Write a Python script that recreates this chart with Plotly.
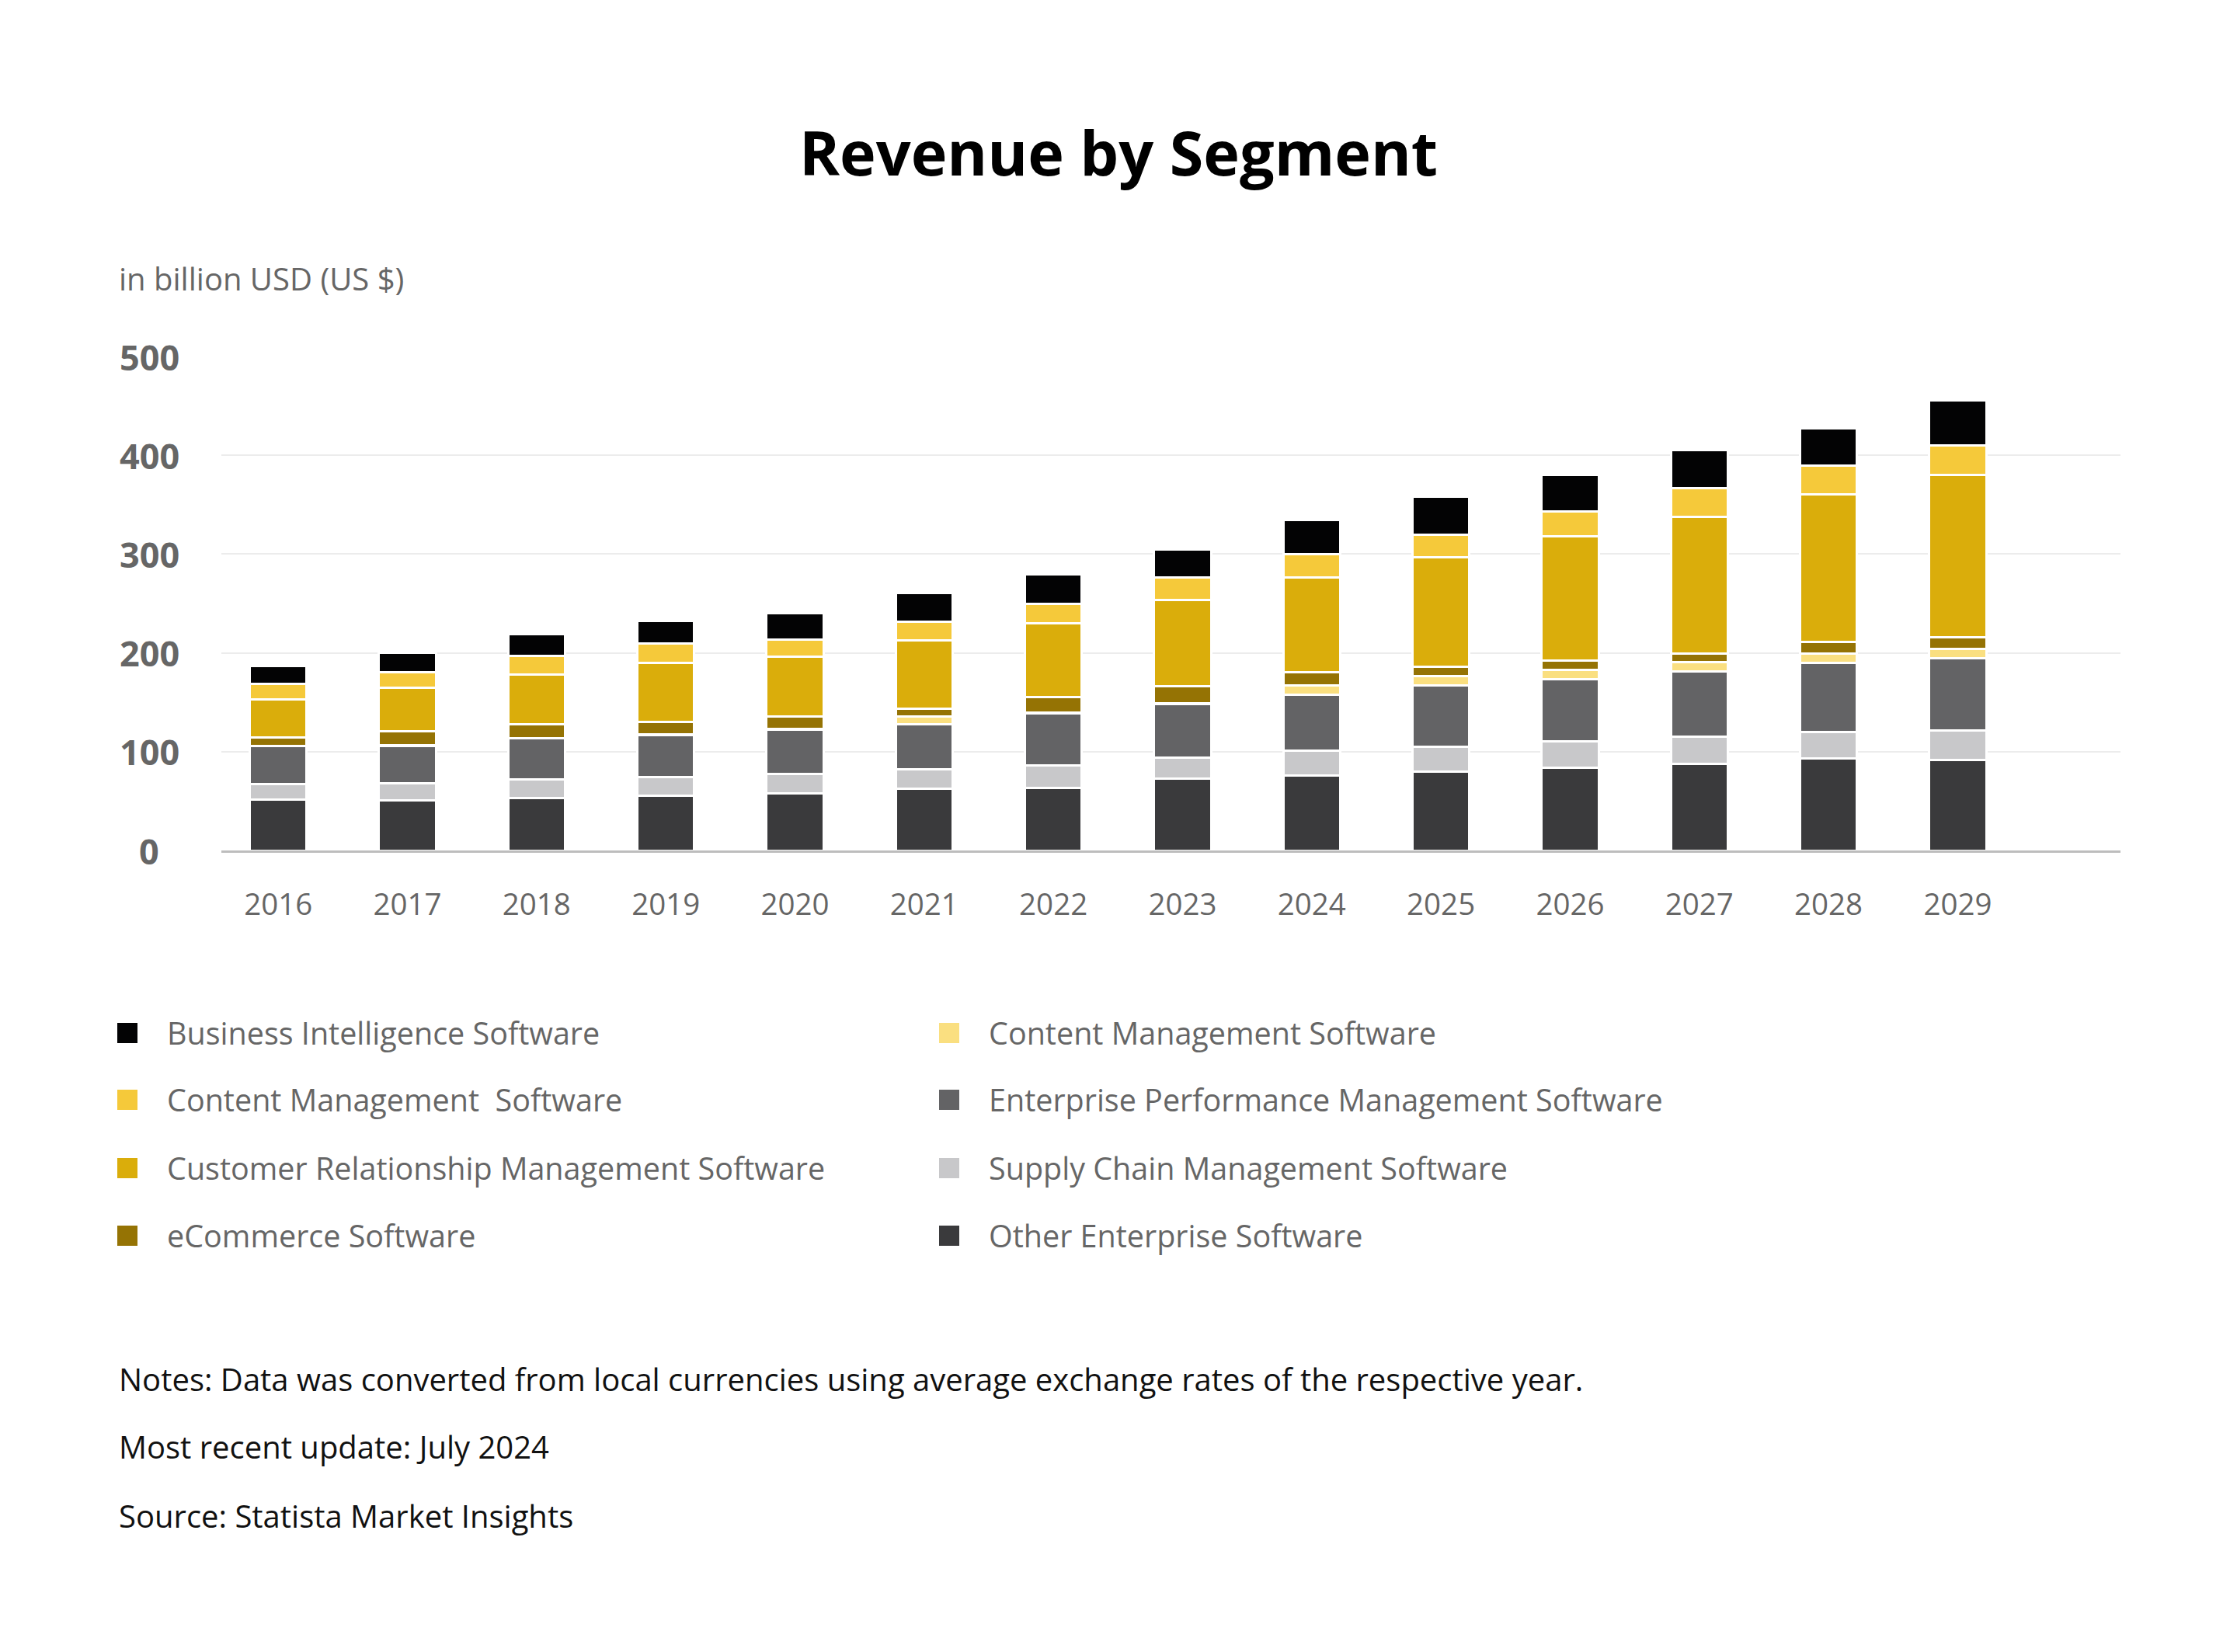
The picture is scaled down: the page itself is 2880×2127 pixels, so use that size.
import plotly.graph_objects as go

years = ["2016", "2017", "2018", "2019", "2020", "2021", "2022",
         "2023", "2024", "2025", "2026", "2027", "2028", "2029"]

# revenue per segment, billion USD
other_enterprise = [51.8, 50.4, 52.8, 55.3, 57.7, 62.3, 63.4, 72.5, 76.1, 79.6, 83.5, 88.0, 93.0, 91.5]
supply_chain = [15.1, 17.6, 19.0, 19.0, 19.8, 20.1, 22.5, 21.5, 25.3, 25.3, 27.1, 27.1, 27.1, 29.6]
enterprise_perf = [38.5, 38.0, 41.6, 42.6, 45.0, 45.1, 53.2, 54.2, 56.3, 62.4, 62.6, 66.2, 69.7, 73.6]
content_mgmt_light = [0.4, 0.4, 0.4, 0.4, 0.4, 8.4, 0.4, 0.4, 9.6, 9.5, 9.2, 9.5, 9.8, 9.5]
ecommerce = [8.3, 14.4, 13.7, 12.6, 12.7, 7.7, 16.1, 17.6, 13.0, 9.5, 10.2, 8.8, 11.3, 11.6]
crm = [38.8, 43.7, 50.7, 60.2, 60.5, 68.7, 74.3, 87.7, 95.8, 110.2, 125.4, 138.1, 149.3, 164.5]
content_mgmt = [15.5, 15.8, 19.0, 19.8, 17.6, 19.0, 20.1, 22.2, 23.5, 23.2, 25.3, 28.8, 29.6, 29.6]
business_intel = [18.0, 20.0, 21.5, 22.8, 26.1, 29.6, 29.6, 28.5, 34.6, 38.4, 37.0, 39.1, 37.7, 45.4]

# stacking order, bottom to top
seg_names = ["Other Enterprise Software", "Supply Chain Management Software",
             "Enterprise Performance Management Software", "Content Management Software",
             "eCommerce Software", "Customer Relationship Management Software",
             "Content Management  Software", "Business Intelligence Software"]
seg_values = [other_enterprise, supply_chain, enterprise_perf, content_mgmt_light,
              ecommerce, crm, content_mgmt, business_intel]
seg_colors = ["#3a3a3c", "#c8c8ca", "#636365", "#fadf80",
              "#957304", "#daad0b", "#f5c93a", "#030304"]

y_ticks = [0, 100, 200, 300, 400, 500]

notes = ["Notes: Data was converted from local currencies using average exchange rates of the respective year.",
         "Most recent update: July 2024",
         "Source: Statista Market Insights"]

# page body has an 8px margin, so the figure is drawn 8px in and kept 16px smaller
OFF = 8
W, H = 2880 - 2 * OFF, 2127 - 2 * OFF
L, T = 285 - OFF, 459 - OFF
R, B = W - (2730 - OFF), H - (1095 - OFF)
FONT = "'Open Sans', Lato, sans-serif"


def px_x(p):
    return (p - OFF - L) / (W - L - R)


def px_y(p):
    return (H - B - (p - OFF)) / (H - B - T)


fig = go.Figure()
for name, vals, col in zip(seg_names, seg_values, seg_colors):
    fig.add_trace(go.Bar(x=years, y=vals, name=name, showlegend=False,
                         marker=dict(color=col, line=dict(color="white", width=3))))

annotations = []
# y tick labels, centred like the original
for v in y_ticks:
    annotations.append(dict(x=px_x(192), xref="paper", y=v, yref="y", text=str(v),
                            showarrow=False, xanchor="center", yanchor="middle",
                            font=dict(family=FONT, size=45, color="#666666", weight="bold")))

annotations.append(dict(x=px_x(151), xref="paper", y=px_y(358), yref="paper",
                        text="in billion USD (US $)", showarrow=False,
                        xanchor="left", yanchor="middle",
                        font=dict(family=FONT, size=40, color="#666666")))

# legend drawn by hand, two columns like the original
shapes = []
rows_y = [1330, 1416, 1504, 1591]
cols_x = [151, 1209]
legend_layout = [7, 6, 5, 4, 3, 2, 1, 0]  # indices into seg_names, column-major
for i, idx in enumerate(legend_layout):
    cx = cols_x[i // 4]
    cy = rows_y[i % 4]
    shapes.append(dict(type="rect", xref="paper", yref="paper",
                       x0=px_x(cx), x1=px_x(cx + 26), y0=px_y(cy - 13), y1=px_y(cy + 13),
                       fillcolor=seg_colors[idx], line=dict(width=0)))
    annotations.append(dict(x=px_x(cx + 62), xref="paper", y=px_y(cy), yref="paper",
                            text=seg_names[idx], showarrow=False,
                            xanchor="left", yanchor="middle",
                            font=dict(family=FONT, size=39.5, color="#666666")))

for i, line in enumerate(notes):
    annotations.append(dict(x=px_x(151), xref="paper", y=px_y(1775 + i * 88), yref="paper",
                            text=line, showarrow=False, xanchor="left", yanchor="middle",
                            font=dict(family=FONT, size=40, color="#111111")))

fig.update_layout(
    width=W, height=H,
    margin=dict(l=L, r=R, t=T, b=B),
    paper_bgcolor="white", plot_bgcolor="white",
    barmode="stack", bargap=0.56,
    title=dict(text="<b>Revenue by Segment</b>", x=0.5, xanchor="center",
               y=1 - (198 - OFF) / H, yanchor="middle",
               font=dict(family=FONT, size=79, color="#000000", weight=800)),
    xaxis=dict(type="category", range=[-0.44, 14.26], showgrid=False,
               showline=True, linecolor="#bdbdbd", linewidth=3,
               ticks="", ticklabelstandoff=34,
               tickfont=dict(family=FONT, size=38.5, color="#666666")),
    yaxis=dict(range=[0, 500], tickvals=y_ticks, showticklabels=False,
               gridcolor="#ececec", gridwidth=2, zeroline=False),
    annotations=annotations,
    shapes=shapes,
    showlegend=False,
)

fig.write_html("out.html")
